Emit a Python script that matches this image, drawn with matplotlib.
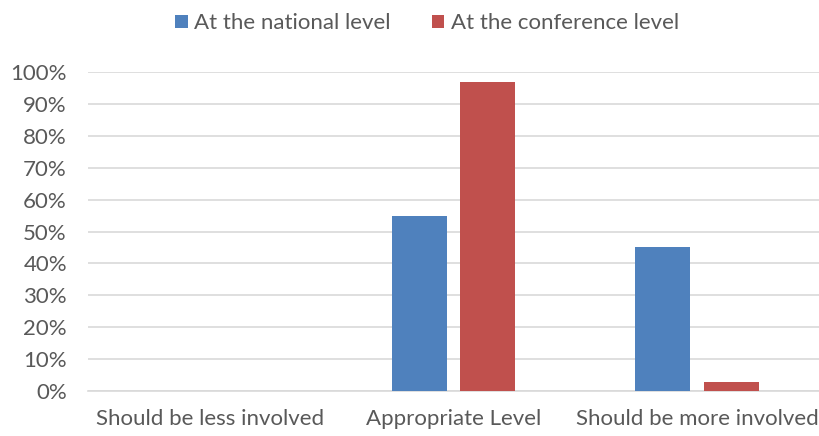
import matplotlib
matplotlib.use("Agg")
import matplotlib.pyplot as plt
import numpy as np
from matplotlib.ticker import PercentFormatter

categories = ["Should be less involved", "Appropriate Level", "Should be more involved"]
national = [0, 55, 45]
conference = [0, 97, 3]
series_names = ["At the national level", "At the conference level"]
colors = ["#4F81BD", "#C0504D"]

plt.rcParams['font.family'] = ['Lato', 'DejaVu Sans']
text_color = "#595959"
fs = 16

fig = plt.figure(figsize=(8.2, 4.36), dpi=100)
ax = fig.add_axes([0.107, 0.103, 0.892, 0.732])

x = np.arange(len(categories))
w = 0.225
off = 0.141
ax.bar(x - off, national, width=w, color=colors[0], label=series_names[0], zorder=3)
ax.bar(x + off, conference, width=w, color=colors[1], label=series_names[1], zorder=3)

ax.set_xlim(-0.5, 2.5)
ax.set_ylim(0, 100)
ax.set_yticks(np.arange(0, 101, 10))
ax.yaxis.set_major_formatter(PercentFormatter(decimals=0))
ax.set_xticks(x)
ax.set_xticklabels(categories)
ax.tick_params(axis='both', length=0, labelsize=fs, colors=text_color)
ax.tick_params(axis='x', pad=13)
ax.tick_params(axis='y', pad=15)
ax.grid(axis='y', color="#D9D9D9", linewidth=1.2, zorder=0)
for s in ["top", "right", "left"]:
    ax.spines[s].set_visible(False)
ax.spines["bottom"].set_color("#D9D9D9")
ax.spines["bottom"].set_linewidth(1.2)

leg = fig.legend(loc="upper center", bbox_to_anchor=(0.521, 1.015), ncol=2, frameon=False,
                 fontsize=fs, handlelength=0.55, handleheight=0.55, handletextpad=0.3,
                 columnspacing=1.85)
for t in leg.get_texts():
    t.set_color(text_color)

fig.savefig("out.png", dpi=100)
